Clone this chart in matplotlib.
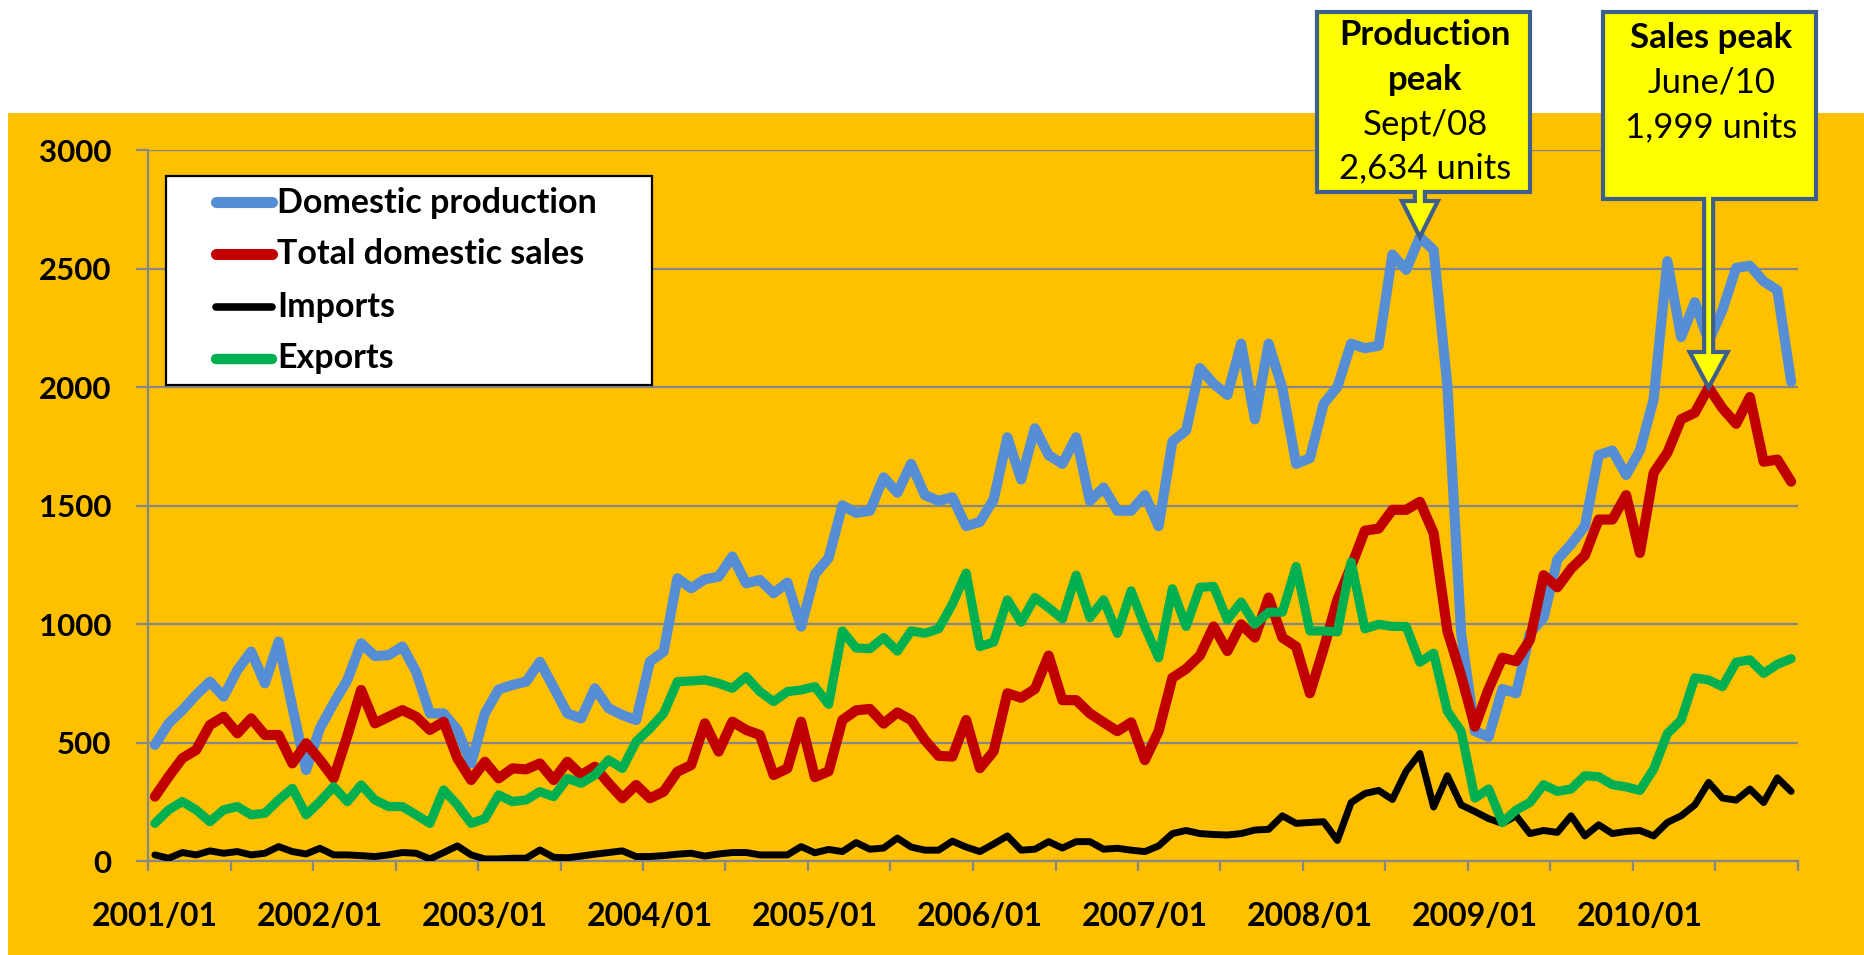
import numpy as np
import matplotlib
matplotlib.use('Agg')
import matplotlib.pyplot as plt
from matplotlib.patches import Rectangle, Polygon
from matplotlib.lines import Line2D

# ---------------- data (monthly, 2001/01 .. 2010/12) ----------------
tick_labels = ['2001/01', '2002/01', '2003/01', '2004/01', '2005/01',
               '2006/01', '2007/01', '2008/01', '2009/01', '2010/01']

production = [
    491, 582, 638, 702, 758, 695, 807, 885, 751, 927, 650, 385,
    561, 667, 765, 920, 866, 870, 906, 800, 624, 624, 554, 413,
    624, 725, 744, 758, 842, 734, 624, 603, 730, 646, 617, 596,
    842, 885, 1194, 1152, 1190, 1201, 1286, 1173, 1187, 1131, 1176, 990,
    1211, 1280, 1502, 1470, 1479, 1620, 1555, 1677, 1545, 1521, 1536, 1414,
    1432, 1526, 1789, 1611, 1827, 1714, 1677, 1789, 1521, 1577, 1479, 1479,
    1545, 1414, 1771, 1818, 2081, 2015, 1968, 2184, 1865, 2184, 1996, 1677,
    1701, 1930, 2002, 2184, 2165, 2175, 2560, 2496, 2634, 2579, 2006, 962,
    549, 525, 727, 709, 962, 1028, 1273, 1338, 1414, 1714, 1733, 1630,
    1733, 1949, 2532, 2212, 2359, 2194, 2325, 2504, 2513, 2447, 2410, 2024]

sales = [
    273, 357, 435, 470, 575, 610, 540, 603, 533, 533, 413, 498,
    428, 350, 530, 723, 582, 610, 638, 610, 554, 589, 435, 343,
    420, 350, 392, 388, 413, 343, 420, 364, 399, 329, 266, 322,
    266, 294, 378, 406, 582, 463, 589, 554, 533, 364, 392, 589,
    355, 380, 596, 637, 643, 581, 628, 596, 511, 445, 442, 596,
    393, 464, 709, 690, 727, 868, 680, 680, 624, 586, 549, 586,
    427, 549, 774, 812, 868, 991, 887, 1000, 944, 1113, 944, 906,
    709, 897, 1103, 1244, 1395, 1404, 1483, 1483, 1517, 1385, 972, 784,
    568, 727, 859, 844, 934, 1207, 1156, 1235, 1291, 1442, 1442, 1545,
    1301, 1639, 1724, 1865, 1893, 1999, 1912, 1846, 1959, 1686, 1695, 1602]

imports = [
    27, 13, 37, 27, 44, 34, 41, 27, 34, 62, 41, 31,
    55, 27, 27, 24, 20, 27, 37, 34, 10, 37, 65, 27,
    10, 10, 13, 13, 48, 17, 15, 22, 30, 37, 44, 20,
    20, 24, 30, 34, 22, 31, 37, 37, 27, 27, 27, 62,
    36, 50, 41, 79, 51, 56, 98, 60, 47, 47, 85, 60,
    41, 73, 107, 47, 51, 83, 56, 83, 83, 51, 55, 47,
    41, 65, 117, 130, 117, 113, 111, 117, 132, 135, 192, 160,
    164, 167, 88, 248, 286, 299, 261, 380, 455, 229, 361, 238,
    210, 180, 160, 192, 117, 130, 122, 192, 107, 154, 117, 126,
    130, 107, 164, 192, 238, 333, 267, 258, 305, 248, 352, 295]

exports = [
    160, 217, 252, 217, 167, 217, 231, 196, 203, 259, 308, 196,
    252, 315, 252, 322, 259, 231, 231, 196, 160, 301, 238, 160,
    180, 280, 252, 259, 294, 273, 350, 329, 364, 428, 392, 505,
    560, 624, 758, 761, 765, 751, 730, 779, 716, 674, 716, 723,
    737, 662, 972, 900, 897, 944, 887, 972, 962, 981, 1085, 1216,
    906, 925, 1103, 1009, 1113, 1070, 1023, 1207, 1028, 1103, 962, 1141,
    990, 859, 1150, 991, 1156, 1160, 1019, 1094, 1000, 1051, 1051, 1244,
    972, 972, 968, 1263, 981, 1000, 991, 991, 840, 878, 633, 549,
    267, 305, 164, 216, 248, 323, 295, 305, 361, 357, 323, 314,
    299, 389, 539, 596, 774, 765, 737, 840, 850, 793, 831, 855]

series_names = ['Domestic production', 'Total domestic sales', 'Imports', 'Exports']
yticks = [0, 500, 1000, 1500, 2000, 2500, 3000]
prod_peak_idx = 92    # Sept/08
sales_peak_idx = 113  # June/10

# ---------------- style ----------------
W, H = 1864, 955
BG = '#FFC000'
GRID = '#878787'
C_BLUE, C_RED, C_BLACK, C_GREEN = '#558ED5', '#C00000', '#000000', '#00B050'
CALLOUT_EDGE = '#3D5F8B'
plt.rcParams['font.family'] = ['Lato', 'DejaVu Sans']

fig = plt.figure(figsize=(W / 100, H / 100), dpi=100, facecolor='white')


def fx(px):
    return px / W


def fy(py):
    return 1 - py / H


fig.add_artist(Rectangle((fx(8), 0), 1, fy(113), transform=fig.transFigure,
                         facecolor=BG, edgecolor='none', zorder=-1))

ax = fig.add_axes([148 / W, (H - 861.3) / H, 1650 / W, 711 / H])
ax.set_facecolor('none')

x = np.arange(len(production))
styles = [(production, C_BLUE, 7.3), (sales, C_RED, 7.3),
          (imports, C_BLACK, 5.0), (exports, C_GREEN, 6.6)]
for z, (vals, col, lw) in enumerate(styles):
    ax.plot(x, vals, color=col, lw=lw, zorder=3 + z,
            solid_joinstyle='round', solid_capstyle='round')

ax.set_xlim(-0.5, len(production) - 0.5)
ax.set_ylim(0, 3000)

# axes, grid, ticks
for s in ['top', 'right']:
    ax.spines[s].set_visible(False)
for s in ['left', 'bottom']:
    ax.spines[s].set_color(GRID)
    ax.spines[s].set_linewidth(1.6)
ax.yaxis.grid(True, color=GRID, linewidth=1.6)
ax.set_axisbelow(True)

ax.set_yticks(yticks)
ax.set_yticklabels([str(v) for v in yticks])
ax.tick_params(axis='y', length=8.6, width=1.6, color=GRID, pad=18,
               labelsize=22.5)

ax.set_xticks(np.arange(0, len(production), 12))
ax.set_xticklabels(tick_labels)
ax.set_xticks(np.arange(-0.5, len(production), 6), minor=True)
ax.tick_params(axis='x', which='major', length=0, pad=29, labelsize=23)
ax.tick_params(axis='x', which='minor', length=7.2, width=1.6, color=GRID)
for lab in ax.get_xticklabels() + ax.get_yticklabels():
    lab.set_fontweight('bold')

# ---------------- legend (drawn as a framed box) ----------------
fig.add_artist(Rectangle((fx(166), fy(385)), fx(652) - fx(166), fy(176) - fy(385),
                         transform=fig.transFigure, facecolor='white',
                         edgecolor='black', linewidth=1.6, zorder=10))
leg_rows = [(201.7, 213.3), (254.3, 264.3), (306.5, 316.7), (359.0, 368.3)]
leg_lw = [8.0, 8.0, 5.5, 7.5]
for (yl, yb), name, (_, col, _), lw in zip(leg_rows, series_names, styles, leg_lw):
    fig.add_artist(Line2D([fx(216), fx(272)], [fy(yl), fy(yl)],
                          transform=fig.transFigure, color=col, lw=lw,
                          solid_capstyle='round', zorder=11))
    fig.text(fx(277), fy(yb), name, fontsize=24.5, fontweight='bold',
             ha='left', va='baseline', zorder=12)

# ---------------- callouts ----------------
def callout(idx, value, box, shaft_hw, head_base, head_hw, lines):
    tx_d, ty_d = ax.transData.transform((idx, value))
    tx, ty = tx_d, H - ty_d
    l, r, t, b = box
    pts = [(l, t), (r, t), (r, b), (tx + shaft_hw, b), (tx + shaft_hw, head_base),
           (tx + head_hw, head_base), (tx, ty), (tx - head_hw, head_base),
           (tx - shaft_hw, head_base), (tx - shaft_hw, b), (l, b)]
    poly = Polygon([(fx(px), fy(py)) for px, py in pts], closed=True,
                   transform=fig.transFigure, facecolor='#FFFF00',
                   edgecolor=CALLOUT_EDGE, linewidth=3.0, joinstyle='miter',
                   zorder=20)
    fig.add_artist(poly)
    cx = (l + r) / 2 + 2
    for txt, base, bold in lines:
        fig.text(fx(cx), fy(base), txt, fontsize=25,
                 fontweight='bold' if bold else 'normal',
                 ha='center', va='baseline', zorder=21)


callout(prod_peak_idx, production[prod_peak_idx], (1317, 1530, 12, 192), 5, 201, 18,
        [('Production', 45, True), ('peak', 90.5, True),
         ('Sept/08', 135, False), ('{:,} units'.format(production[prod_peak_idx]), 178, False)])
callout(sales_peak_idx, sales[sales_peak_idx], (1603, 1816, 12, 199), 4.5, 352, 19,
        [('Sales peak', 48, True), ('June/10', 92, False),
         ('{:,} units'.format(sales[sales_peak_idx]), 137, False)])

fig.savefig('out.png', dpi=100, facecolor='white')
